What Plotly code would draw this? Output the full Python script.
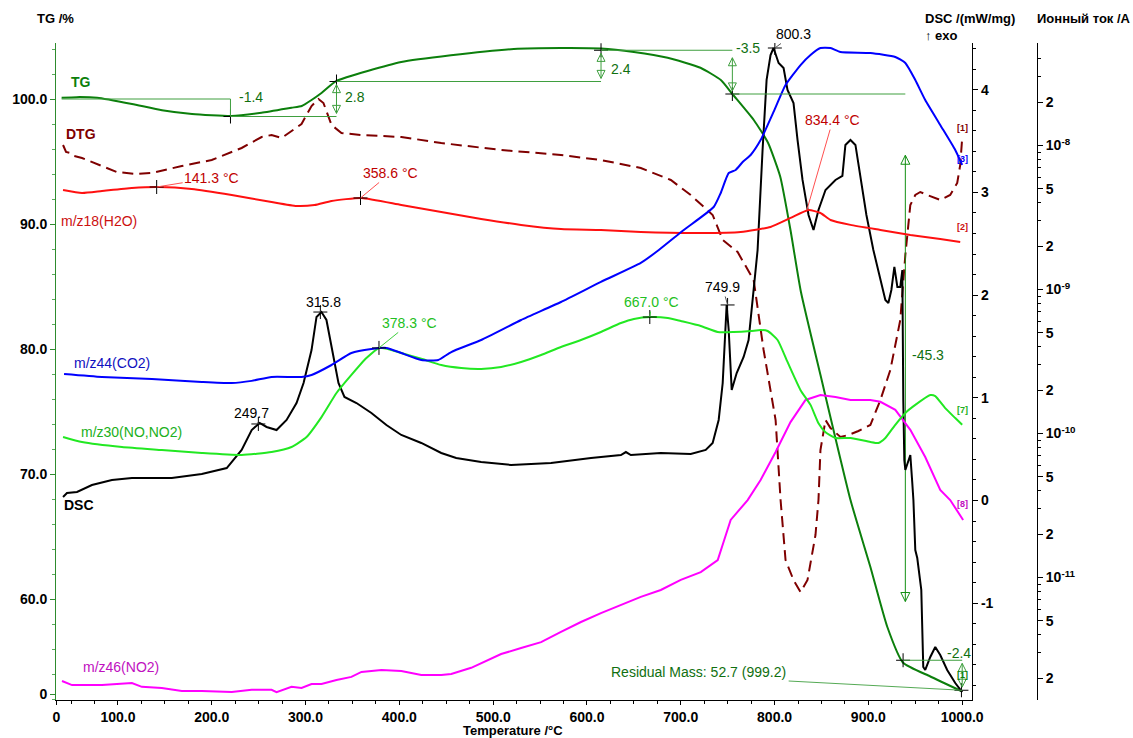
import math
import plotly.graph_objects as go

FONT = "Arial, 'Liberation Sans', sans-serif"
ION_UNIT = 1e-10  # ion-current values below are given in units of 1e-10 A

# ---------------- TG (%) ----------------
tg_T = [40, 56, 78, 115, 147, 179, 221, 253, 285, 296, 306, 317, 333, 402, 455, 522, 572, 615, 650, 686,
        721, 743, 755, 778, 793, 806, 817, 828, 849, 881, 902, 920, 937, 966, 1000]
tg_v = [100.1, 100.15, 100.1, 99.6, 99.1, 98.8, 98.64, 98.9, 99.3, 99.44, 99.9, 100.48, 101.45, 102.96, 103.5,
        104.0, 104.08, 104.04, 103.76, 103.3, 102.5, 101.5, 100.4, 98.3, 96.5, 93.8, 89.5, 84.6, 77.9, 67.9,
        62.6, 57.8, 54.9, 53.8, 52.6]

# ---------------- DTG (drawn on the TG scale) ----------------
dtg_T = [41.5, 44.7, 48.9, 53.2, 61.7, 83, 98.9, 120.2, 136.2, 168.1, 200, 231.9, 253.2, 263.8, 274.5,
         295.7, 306.4, 313.8, 319.1, 327.7, 338.3, 359.6, 402.1, 444.7, 508.5, 572.3, 614.9, 657.4, 689.4,
         710.6, 734, 744.7, 760.6, 777.7, 788.3, 801.1, 806.4, 811.7, 820.2, 827.7, 835.1, 843.6, 846.8,
         848.9, 854.3, 859.6, 870.2, 878.7, 889.4, 902.1, 912.8, 923.4, 934, 939.4, 944.7, 950, 955.3,
         962.8, 976.6, 987.2, 994.7, 997.9, 1000]
dtg_v = [96.32, 95.76, 95.68, 95.44, 95.28, 94.64, 94.16, 94.0, 94.08, 94.64, 95.12, 96.08, 96.96, 97.12,
         96.88, 98.0, 99.44, 100.0, 99.68, 97.92, 97.28, 97.12, 96.96, 96.48, 95.92, 95.52, 95.12, 94.48,
         93.52, 92.32, 90.72, 88.72, 87.76, 85.52, 79.92, 74.32, 67.92, 63.12, 61.52, 60.56, 61.52, 65.12,
         67.92, 71.92, 74.32, 73.68, 72.96, 73.12, 73.44, 73.92, 75.92, 78.32, 82.32, 87.52, 91.52, 92.32,
         92.56, 92.32, 91.92, 92.32, 93.28, 94.72, 96.88]

# ---------------- DSC (mW/mg) ----------------
dsc_T = [41.5, 45.7, 56.4, 72.3, 93.6, 114.9, 157.4, 189.4, 216, 231.9,
         242.6, 251.1, 258.5, 269.1, 279.8, 290.4, 297.9, 306.4, 311.7, 317,
         322.3, 327.7, 335.1, 341.5, 354.3, 370.2, 386.2, 402.1, 423.4, 444.7,
         460.6, 487.2, 519.1, 561.7, 604.3, 636.2, 641.5, 646.8, 678.7, 710.6,
         726.6, 734, 740.4, 744.7, 746.8, 748.9, 751.1, 754.3, 759.6, 767,
         772.3, 776.6, 781.9, 787.2, 791.5, 795.7, 798.9, 804.3, 809.6, 813.8,
         820.2, 824.5, 829.8, 836.2, 841.5, 846.8, 854.3, 864.9, 872.3, 875.5,
         880.9, 886.2, 891.5, 897.9, 905.3, 912.8, 918.1, 921.3, 924.5, 927.7,
         930.9, 934, 936.2, 937.2, 938.3, 939.4, 942.6, 944.7, 946.8, 948,
         950, 952.1, 956.4, 957.4, 958.5, 960.6, 966, 971.3, 976.6, 984,
         992.6, 1000]
dsc_v = [0.034, 0.073, 0.083, 0.151, 0.200, 0.219, 0.219, 0.258, 0.316, 0.492,
         0.686, 0.755, 0.716, 0.686, 0.784, 0.949, 1.144, 1.465, 1.787, 1.835,
         1.758, 1.495, 1.144, 1.008, 0.949, 0.852, 0.735, 0.638, 0.560, 0.463,
         0.414, 0.375, 0.346, 0.365, 0.414, 0.443, 0.472, 0.443, 0.463, 0.453,
         0.492, 0.560, 0.784, 1.144, 1.465, 1.904, 1.660, 1.076, 1.241, 1.397,
         1.563, 1.952, 2.439, 3.413, 4.095, 4.338, 4.406, 4.260, 4.211, 3.997,
         3.870, 3.510, 3.121, 2.780, 2.634, 2.829, 3.023, 3.121, 3.160, 3.462,
         3.510, 3.462, 3.169, 2.780, 2.439, 2.147, 1.952, 1.923, 2.050, 2.274,
         2.079, 2.079, 2.244, 0.979, 0.394, 0.297, 0.394, 0.443, 0.170, 0.005,
         -0.482, -0.560, -0.871, -1.290, -1.621, -1.650, -1.524, -1.426, -1.504, -1.650,
         -1.777, -1.865]

# ---------------- ion currents (x 1e-10 A) ----------------
co2_T = [42.6, 83, 136.2, 189.4, 221.3, 242.6, 263.8, 295.7, 306.4, 327.7, 348.9, 370.2, 386.2, 402.1,
         423.4, 441.5, 455.3, 487.2, 529.8, 572.3, 614.9, 657.4, 676.6, 703.2, 735.1, 742.6, 751.1, 758.5,
         766, 774.5, 785.1, 798.9, 811.7, 827.7, 838.3, 848.9, 859.6, 870.2, 902.1, 928.7, 939.4, 950,
         960.6, 976.6, 992.6, 1000]
co2_v = [2.59, 2.47, 2.39, 2.28, 2.24, 2.32, 2.47, 2.47, 2.55, 2.99, 3.62, 3.86, 3.93, 3.62, 3.24, 3.24,
         3.68, 4.46, 6.14, 8.19, 11.3, 15.3, 18.8, 25.9, 37.4, 46.8, 64.4, 67.6, 76.8, 85.9, 109, 171, 263,
         362, 425, 475, 475, 446, 439, 412, 374, 285, 207, 139, 93.1, 73.3]

h2o_T = [41.5, 61.7, 83, 114.9, 143.6, 178.7, 221.3, 263.8, 290.4, 309.6, 327.7, 359.6, 402.1, 444.7,
         487.2, 529.8, 572.3, 614.9, 657.4, 721.3, 763.8, 795.7, 817, 836.2, 848.9, 859.6, 880.9, 912.8,
         944.7, 976.6, 997.9]
h2o_v = [49.1, 46.8, 48.3, 50.7, 51.5, 49.9, 45.3, 40.5, 38.0, 38.6, 41.2, 43.2, 38.6, 34.5, 30.9, 28.1,
         26.3, 25.9, 25.1, 24.7, 25.1, 27.2, 31.4, 35.6, 34.0, 30.4, 28.1, 25.9, 23.9, 22.4, 21.4]

nox_T = [41.5, 61.7, 104.3, 146.8, 189.4, 231.9, 263.8, 285.1, 301.1, 317, 333, 348.9, 364.9, 378.7,
         391.5, 402.1, 423.4, 444.7, 466, 487.2, 508.5, 529.8, 551.1, 572.3, 593.6, 614.9, 636.2, 650,
         668.1, 686.2, 700, 721.3, 739.4, 756.4, 774.5, 785.1, 792.6, 803.2, 813.8, 827.7, 838.3, 846.8,
         854.3, 864.9, 880.9, 902.1, 910.6, 918.1, 928.7, 939.4, 950, 966, 971.3, 981.9, 992.6, 1000]
nox_v = [0.946, 0.873, 0.806, 0.768, 0.732, 0.709, 0.744, 0.806, 0.946, 1.30, 1.91, 2.55, 3.34, 3.93,
         3.80, 3.62, 3.30, 2.99, 2.85, 2.81, 2.90, 3.14, 3.51, 3.99, 4.46, 5.07, 5.85, 6.24, 6.44, 6.34,
         6.04, 5.58, 5.07, 5.07, 5.15, 5.23, 5.15, 4.46, 3.14, 2.00, 1.58, 1.18, 1.02, 0.931, 0.931, 0.873,
         0.859, 0.931, 1.15, 1.39, 1.58, 1.85, 1.82, 1.50, 1.28, 1.15]

no2_T = [40.4, 51.1, 83, 114.9, 125.5, 146.8, 168.1, 189.4, 221.3, 242.6, 263.8, 269.1, 285.1, 295.7,
         306.4, 317, 333, 348.9, 359.6, 380.9, 402.1, 423.4, 444.7, 455.3, 476.6, 492.6, 508.5, 529.8,
         551.1, 572.3, 593.6, 614.9, 636.2, 657.4, 678.7, 700, 721.3, 739.4, 745.7, 753.2, 771.3, 785.1,
         801.1, 817, 833, 848.9, 864.9, 880.9, 902.1, 912.8, 928.7, 944.7, 960.6, 976.6, 987.2, 995.7, 1001]
no2_v = [0.0191, 0.0179, 0.0179, 0.0185, 0.0174, 0.0171, 0.0163, 0.0163, 0.0160, 0.0166, 0.0166, 0.0160,
         0.0174, 0.0171, 0.0182, 0.0182, 0.0194, 0.0204, 0.0221, 0.0228, 0.0224, 0.0210, 0.0210, 0.0214,
         0.0236, 0.0263, 0.0294, 0.0324, 0.0356, 0.0419, 0.0491, 0.0566, 0.0644, 0.0733, 0.0819, 0.0962,
         0.109, 0.132, 0.177, 0.251, 0.345, 0.475, 0.744, 1.20, 1.71, 1.85, 1.79, 1.71, 1.71, 1.66, 1.46,
         1.06, 0.687, 0.405, 0.345, 0.285, 0.251]

# ---------------- evaluated points ----------------
dsc_peak_T = [249.7, 315.8, 749.9, 800.3]
dsc_peak_v = [0.745, 1.835, 1.904, 4.406]
h2o_peak_T = [141.3, 358.6, 834.4]
h2o_peak_v = [51.5, 43.2, 35.6]
nox_peak_T = [378.3, 667.0]
nox_peak_v = [3.93, 6.44]

# TG step evaluation: levels (%) and temperatures
tg_levels = [100.0, 98.6, 101.4, 103.9, 100.4, 55.1, 52.7]
tg_step_T = [220, 333, 615, 755, 937, 999.2]
tg_step_text = ["-1.4", "2.8", "2.4", "-3.5", "-45.3", "-2.4"]
residual_text = "Residual Mass: 52.7 (999.2)"

# ---------------- colours ----------------
C_TG = "#0c7f0c"
C_TGL = "#3f9f3f"
C_DTG = "#7f0000"
C_DSC = "#000000"
C_H2O = "#ff1010"
C_CO2 = "#0000ff"
C_NOX = "#22e822"
C_NO2 = "#ff00ff"

fig = go.Figure()


def line(x, y, color, yaxis, width=2, dash=None, spline=False):
    ln = dict(color=color, width=width)
    if dash:
        ln["dash"] = dash
    if spline:
        ln["shape"] = "spline"
        ln["smoothing"] = 0.5
    fig.add_trace(go.Scatter(x=x, y=y, mode="lines", line=ln, yaxis=yaxis,
                             hoverinfo="skip", showlegend=False))


ion = lambda vals: [v * ION_UNIT for v in vals]

line(no2_T, ion(no2_v), C_NO2, "y3", 2)
line(nox_T, ion(nox_v), C_NOX, "y3", 2, spline=True)
line(h2o_T, ion(h2o_v), C_H2O, "y3", 2, spline=True)
line(co2_T, ion(co2_v), C_CO2, "y3", 2, spline=True)
line(dtg_T, dtg_v, C_DTG, "y", 2, dash="11px,6px")
line(dsc_T, dsc_v, C_DSC, "y2", 2)
line(tg_T, tg_v, C_TG, "y", 2, spline=True)


# crosshair markers
def cross(x, y, yaxis):
    fig.add_trace(go.Scatter(x=x, y=y, mode="markers", yaxis=yaxis, hoverinfo="skip", showlegend=False,
                             marker=dict(symbol="cross-thin", size=10, line=dict(width=1, color="black"))))


cross(dsc_peak_T, dsc_peak_v, "y2")
cross(h2o_peak_T[:2], ion(h2o_peak_v[:2]), "y3")
cross(nox_peak_T, ion(nox_peak_v), "y3")
cross(tg_step_T, tg_levels[1:], "y")

# ---------------- TG evaluation lines ----------------
shapes = []


def seg(x0, y0, x1, y1, color=C_TGL, width=1):
    shapes.append(dict(type="line", xref="x", yref="y", x0=x0, y0=y0, x1=x1, y1=y1,
                       line=dict(color=color, width=width)))


seg(40, tg_levels[0], tg_step_T[0], tg_levels[0])
seg(tg_step_T[0], tg_levels[0], tg_step_T[0], tg_levels[1])
seg(tg_step_T[0], tg_levels[1], tg_step_T[1], tg_levels[1])
seg(tg_step_T[1], tg_levels[2], tg_step_T[2], tg_levels[2])
seg(tg_step_T[2], tg_levels[3], tg_step_T[3], tg_levels[3])
seg(tg_step_T[3], tg_levels[4], 939.4, tg_levels[4])
seg(tg_step_T[4], tg_levels[5], 1000, tg_levels[5])
seg(815, 53.44, 1000, tg_levels[6], color="#55aa55")


# double-headed measuring arrows (shaft + open arrow heads)
def darrow(x, y_low, y_high, color=C_TGL, size=8):
    fig.add_trace(go.Scatter(x=[x, x], y=[y_low, y_high], mode="lines+markers", yaxis="y",
                             hoverinfo="skip", showlegend=False,
                             line=dict(color=color, width=1),
                             marker=dict(symbol=["arrow-down-open", "arrow-up-open"], size=size,
                                         color=color, line=dict(color=color, width=1),
                                         standoff=0)))


darrow(tg_step_T[1], tg_levels[1] + 0.25, tg_levels[2] - 0.25)
darrow(tg_step_T[2], tg_levels[2] + 0.25, tg_levels[3] - 0.25)
darrow(tg_step_T[3], tg_levels[4] + 0.25, tg_levels[3] - 0.6)
darrow(939.4, 59.8, 95.5, color="#139013", size=9)
darrow(1000, tg_levels[6] + 0.25, tg_levels[5] - 0.25)

annotations = []


def txt(x, y, text, color, size=14, bold=False, xref="x", yref="y", xanchor="left", yanchor="middle"):
    annotations.append(dict(x=x, y=y, xref=xref, yref=yref, text=f"<b>{text}</b>" if bold else text,
                            showarrow=False, font=dict(family=FONT, size=size, color=color),
                            xanchor=xanchor, yanchor=yanchor))


# TG step labels
step_pos = [(226.6, 100.16), (340.4, 100.16), (623.4, 102.4), (756.4, 104.08), (944.7, 79.5), (981.9, 55.68)]
for (px_, py_), t in zip(step_pos, tg_step_text):
    txt(px_, py_, t, "#107010")
txt(813.8, 54.16, residual_text, "#107010", xanchor="right")

# curve labels
txt(47.9, 101.36, "TG", C_TG, bold=True)
txt(42.6, 97.2, "DTG", C_DTG, bold=True)
txt(37.2, 90.24, "m/z18(H2O)", "#cc1010")
txt(51.1, 78.88, "m/z44(CO2)", "#1010c0")
txt(58.5, 73.36, "m/z30(NO,NO2)", "#20b020")
txt(40.4, 67.52, "DSC", "black", bold=True)
txt(60.6, 54.56, "m/z46(NO2)", "#c010c0")

# bracket labels at curve ends
for yv, t, c in [(97.68, "[1]", C_DTG), (95.2, "[3]", C_CO2), (89.76, "[2]", "#cc1010"),
                 (75.12, "[7]", "#20b020"), (67.6, "[8]", "#c010c0"), (53.92, "[1]", C_TG)]:
    txt(1000, yv, f"<b>{t}</b>", c, size=9, xanchor="center")


def peak(x, y, yref, text, color, ax, ay, acolor):
    annotations.append(dict(x=x, y=y, xref="x", yref=yref, text=text, showarrow=True, arrowhead=0,
                            arrowwidth=1, arrowcolor=acolor, ax=ax, ay=ay,
                            font=dict(family=FONT, size=14, color=color)))


dsc_offsets = [(-7, -11), (3, -10), (-5, -18), (19, -14)]
for xv, yv, (ax_, ay_) in zip(dsc_peak_T, dsc_peak_v, dsc_offsets):
    peak(xv, yv, "y2", f"{xv:.1f}", "black", ax_, ay_, "#555555")

h2o_offsets = [(55, -9), (30, -25), (26, -90)]
for xv, yv, (ax_, ay_) in zip(h2o_peak_T, h2o_peak_v, h2o_offsets):
    peak(xv, math.log10(yv * ION_UNIT), "y3", f"{xv:.1f} °C", "#c00000", ax_, ay_, "#ff5050")

nox_offsets = [(31, -25), (2, -15)]
for xv, yv, (ax_, ay_) in zip(nox_peak_T, nox_peak_v, nox_offsets):
    peak(xv, math.log10(yv * ION_UNIT), "y3", f"{xv:.1f} °C", "#22c022", ax_, ay_, "#40d040")

# axis titles
txt(-0.001, 1.038, "TG /%", "black", size=13, bold=True, xref="paper", yref="paper", xanchor="center")
txt(0.884, 1.038, "DSC /(mW/mg)", "black", size=13, bold=True, xref="paper", yref="paper")
txt(0.884, 1.0107, "↑ exo", "black", size=13, bold=True, xref="paper", yref="paper")
txt(0.998, 1.038, "Ионный ток /A", "black", size=13, bold=True, xref="paper", yref="paper")
txt(0.466, -0.047, "Temperature /°C", "black", size=13, bold=True, xref="paper", yref="paper",
    xanchor="center")

# ---------------- axes ----------------
tickfont = dict(family=FONT, size=14, color="black")
B = lambda s: f"<b>{s}</b>"

x_ticks = [100, 200, 300, 400, 500, 600, 700, 800, 900, 1000]
tg_ticks = [60, 70, 80, 90, 100]
dsc_ticks = [-1, 0, 1, 2, 3, 4]
ion_ticks = [2e-12, 5e-12, 1e-11, 2e-11, 5e-11, 1e-10, 2e-10, 5e-10, 1e-9, 2e-9, 5e-9, 1e-8, 2e-8]
ion_text = ["2", "5", "10<sup>-11</sup>", "2", "5", "10<sup>-10</sup>", "2", "5", "10<sup>-9</sup>",
            "2", "5", "10<sup>-8</sup>", "2"]
ion_minor = [m * 10.0 ** e for e in range(-12, -7) for m in (3, 4, 6, 7, 8, 9)]

fig.update_layout(
    width=1133, height=738,
    margin=dict(l=54, r=96, t=43, b=38),
    paper_bgcolor="white", plot_bgcolor="white",
    showlegend=False,
    font=dict(family=FONT, size=13, color="black"),
    xaxis=dict(domain=[0, 0.93388], range=[34.0, 1010.6], showgrid=False, zeroline=False,
               showline=True, linecolor="black", linewidth=1,
               ticks="outside", ticklen=4, tickcolor="black",
               tickmode="array", tickvals=[34.3] + x_ticks,
               ticktext=[B("0")] + [B(f"{v:.1f}") for v in x_ticks], tickfont=tickfont,
               minor=dict(tickmode="linear", tick0=0, dtick=25, ticklen=3, ticks="outside",
                          tickcolor="black")),
    yaxis=dict(range=[51.92, 104.48], showgrid=False, zeroline=False,
               showline=True, linecolor="#2e8b2e", linewidth=1,
               ticks="outside", ticklen=5, tickcolor="#2e8b2e",
               tickmode="array", tickvals=[52.4] + tg_ticks,
               ticktext=[B("0")] + [B(f"{v:.1f}") for v in tg_ticks], tickfont=tickfont,
               minor=dict(tickmode="linear", tick0=0, dtick=2, ticklen=3, ticks="outside",
                          tickcolor="#5aaa5a")),
    yaxis2=dict(range=[-1.9426, 4.4547], overlaying="y", side="right", anchor="x",
                showgrid=False, zeroline=False, showline=True, linecolor="black", linewidth=1,
                ticks="outside", ticklen=5, tickcolor="black",
                tickmode="array", tickvals=dsc_ticks, ticktext=[B(v) for v in dsc_ticks],
                tickfont=tickfont,
                minor=dict(tickmode="linear", tick0=0, dtick=0.2, ticklen=3, ticks="outside",
                           tickcolor="black")),
    yaxis3=dict(type="log", range=[-11.8507, -7.2882], overlaying="y", side="right", anchor="free",
                position=1.0, showgrid=False, zeroline=False, showline=True, linecolor="black",
                linewidth=1, ticks="outside", ticklen=5, tickcolor="black",
                tickmode="array", tickvals=ion_ticks, ticktext=[B(t) for t in ion_text],
                tickfont=tickfont,
                minor=dict(tickmode="array", tickvals=ion_minor, ticklen=3, ticks="outside",
                           tickcolor="black")),
    shapes=shapes,
    annotations=annotations,
)

fig.write_html("out.html", config={"displayModeBar": False},
               post_script="document.body.style.margin='0';document.body.style.overflow='hidden';")
